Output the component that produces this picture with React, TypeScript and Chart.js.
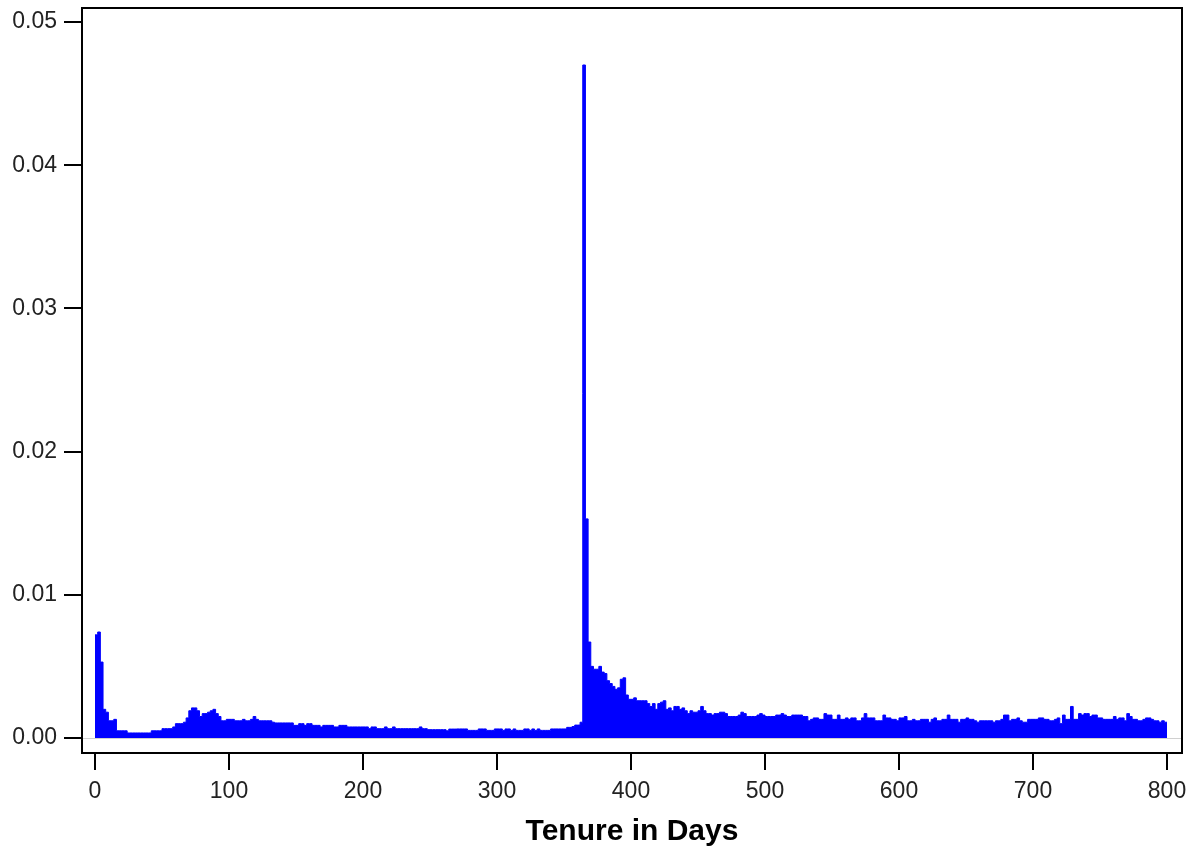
import React, { useEffect, useRef } from 'react';
import { Chart, registerables } from 'chart.js';

Chart.register(...registerables);

// Histogram of tenure (density per 2-day bin), bins start at 0, 2, 4, ... 798
const BIN_WIDTH = 2;
const DENSITY: number[] = [
  // 0-38
  0.0072, 0.0074, 0.0053, 0.0020, 0.0018, 0.0012, 0.0012, 0.0013, 0.0005, 0.0005,
  0.0005, 0.0005, 0.00035, 0.00035, 0.00035, 0.00035, 0.00035, 0.00035, 0.00035, 0.00035,
  // 40-78
  0.00035, 0.0005, 0.0005, 0.0005, 0.0005, 0.00065, 0.00065, 0.00065, 0.00065, 0.00077,
  0.0010, 0.0010, 0.0010, 0.0011, 0.0014, 0.0019, 0.0021, 0.0021, 0.0019, 0.0015,
  // 80-118
  0.0017, 0.0017, 0.0018, 0.0019, 0.0020, 0.0017, 0.0015, 0.0012, 0.0012, 0.0013,
  0.0013, 0.0013, 0.0012, 0.0012, 0.0012, 0.0013, 0.0012, 0.0012, 0.0013, 0.0015,
  // 120-158
  0.0013, 0.0012, 0.0012, 0.0012, 0.0012, 0.0012, 0.0011, 0.00105, 0.00105, 0.00105,
  0.00105, 0.00105, 0.00105, 0.00105, 0.00088, 0.00088, 0.0010, 0.0010, 0.00088, 0.0010,
  // 160-198
  0.0010, 0.00088, 0.00088, 0.00088, 0.00077, 0.00088, 0.00088, 0.00088, 0.00088, 0.00077,
  0.00077, 0.00088, 0.00088, 0.00088, 0.00077, 0.00077, 0.00077, 0.00077, 0.00077, 0.00077,
  // 200-238
  0.00077, 0.00077, 0.00065, 0.00077, 0.00077, 0.00065, 0.00065, 0.00065, 0.00077, 0.00065,
  0.00065, 0.00077, 0.00065, 0.00065, 0.00065, 0.00065, 0.00065, 0.00065, 0.00065, 0.00065,
  // 240-278
  0.00065, 0.00077, 0.00065, 0.00065, 0.00058, 0.00058, 0.00058, 0.00058, 0.00058, 0.00058,
  0.00058, 0.0005, 0.00062, 0.00062, 0.00062, 0.00063, 0.00063, 0.00063, 0.00063, 0.00053,
  // 280-318
  0.00053, 0.00053, 0.00053, 0.00063, 0.00063, 0.00063, 0.00053, 0.00053, 0.00053, 0.00063,
  0.00063, 0.00063, 0.00053, 0.00063, 0.00063, 0.00053, 0.00063, 0.00053, 0.00053, 0.00053,
  // 320-358
  0.00063, 0.00063, 0.00053, 0.00063, 0.00053, 0.00063, 0.00053, 0.00053, 0.00053, 0.00053,
  0.00063, 0.00063, 0.00063, 0.00063, 0.00063, 0.00063, 0.00074, 0.00074, 0.0008, 0.0009,
  // 360-398
  0.0009, 0.0011, 0.0470, 0.0153, 0.0067, 0.0050, 0.0048, 0.0048, 0.0050, 0.0046,
  0.0045, 0.0040, 0.0038, 0.0036, 0.0034, 0.0035, 0.0041, 0.0042, 0.0030, 0.0027,
  // 400-438
  0.0027, 0.0028, 0.0026, 0.0026, 0.0026, 0.0026, 0.0024, 0.0022, 0.0024, 0.0020,
  0.0024, 0.0025, 0.0026, 0.0020, 0.0021, 0.0019, 0.0022, 0.0022, 0.0020, 0.0021,
  // 440-478
  0.0019, 0.0017, 0.0019, 0.0018, 0.0018, 0.0019, 0.0022, 0.0019, 0.0017, 0.0017,
  0.0016, 0.0017, 0.0017, 0.0018, 0.0018, 0.0017, 0.0015, 0.0015, 0.0015, 0.0015,
  // 480-518
  0.0016, 0.0018, 0.0017, 0.0015, 0.0015, 0.0015, 0.0015, 0.0016, 0.0017, 0.0016,
  0.0015, 0.0015, 0.0015, 0.0015, 0.0016, 0.0016, 0.0017, 0.0016, 0.0015, 0.0015,
  // 520-558
  0.0016, 0.0016, 0.0016, 0.0016, 0.0015, 0.0015, 0.0012, 0.0013, 0.0014, 0.0014,
  0.0013, 0.0013, 0.0017, 0.0016, 0.0016, 0.0013, 0.0013, 0.0016, 0.0013, 0.0013,
  // 560-598
  0.0014, 0.0013, 0.0014, 0.0014, 0.0012, 0.0012, 0.0014, 0.0017, 0.0014, 0.0014,
  0.0014, 0.0012, 0.0012, 0.0012, 0.0016, 0.0014, 0.0014, 0.0013, 0.0013, 0.0012,
  // 600-638
  0.0014, 0.0014, 0.0015, 0.0012, 0.0012, 0.0013, 0.0012, 0.0012, 0.0013, 0.0013,
  0.0013, 0.0011, 0.0013, 0.0014, 0.0012, 0.0012, 0.0013, 0.0013, 0.0016, 0.0013,
  // 640-678
  0.0013, 0.0013, 0.0011, 0.0013, 0.0013, 0.0014, 0.0013, 0.0013, 0.0012, 0.0011,
  0.0012, 0.0012, 0.0012, 0.0012, 0.0012, 0.0011, 0.0012, 0.0012, 0.0013, 0.0016,
  // 680-718
  0.0016, 0.0012, 0.0013, 0.0013, 0.0014, 0.0012, 0.0011, 0.0011, 0.0013, 0.0013,
  0.0013, 0.0013, 0.0014, 0.0014, 0.0013, 0.0013, 0.0012, 0.0012, 0.0013, 0.0014,
  // 720-758
  0.0010, 0.0016, 0.0013, 0.0013, 0.0022, 0.0013, 0.0013, 0.0017, 0.0016, 0.0017,
  0.0017, 0.0015, 0.0016, 0.0016, 0.0014, 0.0014, 0.0013, 0.0013, 0.0013, 0.0013,
  // 760-798
  0.0015, 0.0013, 0.0014, 0.0014, 0.0012, 0.0017, 0.0015, 0.0013, 0.0013, 0.0012,
  0.0012, 0.0013, 0.0014, 0.0014, 0.0013, 0.0012, 0.0012, 0.0011, 0.0012, 0.0011,
];
const BIN_STARTS: number[] = DENSITY.map((_, i) => i * BIN_WIDTH);

const X_TICKS: number[] = [0, 100, 200, 300, 400, 500, 600, 700, 800];
const Y_TICKS: number[] = [0, 0.01, 0.02, 0.03, 0.04, 0.05];
const X_TITLE = 'Tenure in Days';

const X_MIN = -9.7;
const X_MAX = 811.2;
const Y_MIN = -0.00105;
const Y_MAX = 0.05098;

const TICK_FONT = { family: "'Liberation Sans', Arial, sans-serif", size: 23 };

const framePlugin = {
  id: 'frameAndBaseline',
  beforeDatasetsDraw(chart: any) {
    const { ctx, chartArea, scales } = chart;
    const y0 = scales.y.getPixelForValue(0);
    ctx.save();
    ctx.strokeStyle = '#d0d0d0';
    ctx.lineWidth = 1;
    ctx.beginPath();
    ctx.moveTo(chartArea.left, Math.round(y0) + 0.5);
    ctx.lineTo(chartArea.right, Math.round(y0) + 0.5);
    ctx.stroke();
    ctx.restore();
  },
  afterDraw(chart: any) {
    const { ctx, chartArea } = chart;
    ctx.save();
    ctx.strokeStyle = '#000';
    ctx.lineWidth = 2;
    ctx.strokeRect(chartArea.left, chartArea.top, chartArea.right - chartArea.left, chartArea.bottom - chartArea.top);
    ctx.restore();
  },
};

export default function App() {
  const ref = useRef<HTMLCanvasElement | null>(null);

  useEffect(() => {
    if (!ref.current) return;

    const points = BIN_STARTS.map((x, i) => ({ x, y: DENSITY[i] }));
    points.push({ x: BIN_STARTS[BIN_STARTS.length - 1] + BIN_WIDTH, y: DENSITY[DENSITY.length - 1] });

    const chart = new Chart(ref.current, {
      type: 'line',
      data: {
        datasets: [
          {
            label: 'Density',
            data: points,
            stepped: 'before',
            fill: 'origin',
            backgroundColor: '#0000ff',
            borderColor: '#0000ff',
            borderWidth: 1,
            pointRadius: 0,
            pointHoverRadius: 0,
            tension: 0,
          },
        ],
      },
      options: {
        responsive: false,
        animation: false,
        events: [],
        layout: { padding: { left: 0, top: 8, right: 8, bottom: 0 } },
        plugins: {
          legend: { display: false },
          tooltip: { enabled: false },
          title: { display: false },
        },
        scales: {
          x: {
            type: 'linear',
            min: X_MIN,
            max: X_MAX,
            afterBuildTicks: (s: any) => {
              s.ticks = X_TICKS.map((v) => ({ value: v }));
            },
            afterFit: (s: any) => {
              s.height = 97;
              s.paddingLeft = 0;
              s.paddingRight = 0;
            },
            grid: { drawOnChartArea: false, drawTicks: true, tickLength: 17, color: '#000', lineWidth: 2 },
            border: { display: false },
            ticks: {
              font: TICK_FONT,
              color: '#222',
              padding: 8,
              maxRotation: 0,
              autoSkip: false,
              callback: (v: any) => String(v),
            },
            title: {
              display: true,
              text: X_TITLE,
              color: '#000',
              font: { family: "'Liberation Sans', Arial, sans-serif", size: 30, weight: 'bold', lineHeight: 1.2 },
              padding: { top: 0, bottom: 0 },
            },
          },
          y: {
            type: 'linear',
            min: Y_MIN,
            max: Y_MAX,
            afterBuildTicks: (s: any) => {
              s.ticks = Y_TICKS.map((v) => ({ value: v }));
            },
            afterFit: (s: any) => {
              s.width = 82;
              s.paddingTop = 0;
              s.paddingBottom = 0;
            },
            grid: { drawOnChartArea: false, drawTicks: true, tickLength: 18, color: '#000', lineWidth: 2 },
            border: { display: false },
            ticks: {
              font: TICK_FONT,
              color: '#222',
              padding: 7,
              autoSkip: false,
              callback: (v: any) => Number(v).toFixed(2),
            },
          },
        },
      },
      plugins: [framePlugin],
    } as any);

    return () => chart.destroy();
  }, []);

  return (
    <div style={{ position: 'fixed', left: 0, top: 0, width: 1190, height: 850, background: '#fff' }}>
      <canvas ref={ref} width={1190} height={850} style={{ display: 'block' }} />
    </div>
  );
}
